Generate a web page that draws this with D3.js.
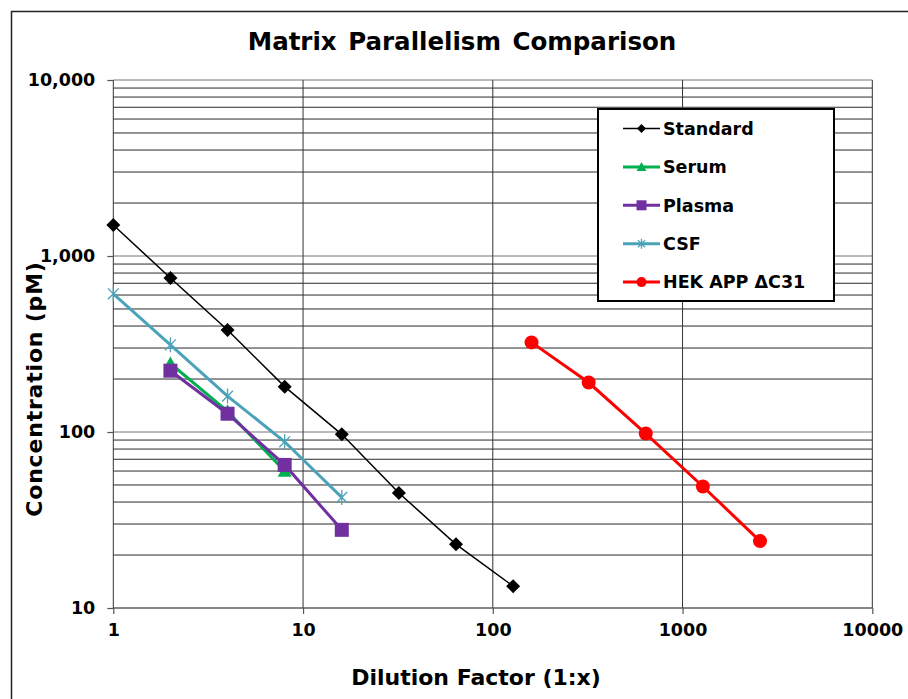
<!DOCTYPE html>
<html>
<head>
<meta charset="utf-8">
<script src="https://cdn.jsdelivr.net/npm/d3@7"></script>
<style>
body { margin: 0; background: #fff; }
text { font-family: "DejaVu Sans", Verdana, sans-serif; font-weight: bold; fill: #000; }
</style>
</head>
<body>
<script>
// dilution factors (1:x) and concentrations (pM)
var standardX = [1, 2, 4, 8, 16, 32, 64, 128]
var standardY = [1500, 750, 380, 181, 97, 45, 23, 13.3]
var serumX = [2, 4, 8]
var serumY = [245, 131, 60]
var plasmaX = [2, 4, 8, 16]
var plasmaY = [223, 127, 65, 27.8]
var csfX = [1, 2, 4, 8, 16]
var csfY = [610, 313, 160, 88, 42.5]
var hekX = [160, 320, 640, 1280, 2560]
var hekY = [323, 191, 98, 49, 24]

var seriesNames = ["Standard", "Serum", "Plasma", "CSF", "HEK APP \u0394C31"]
var xTicks = [1, 10, 100, 1000, 10000]
var yTicks = [10, 100, 1000, 10000]

var w = 908, h = 699
var plotLeft = 113.3, plotTop = 80, plotRight = 872.3, plotBottom = 608

var svg = d3.select("body")
    .append("svg")
    .attr("width", w)
    .attr("height", h)

// outer frame (only top/left edges are visible in the picture)
svg.append("path")
    .attr("d", "M11.5,699V11.5H908")
    .attr("fill", "none")
    .attr("stroke", "#222")
    .attr("stroke-width", 1.5)

var xScale = d3.scaleLog()
    .domain([1, 10000])
    .range([plotLeft, plotRight])

var yScale = d3.scaleLog()
    .domain([10, 10000])
    .range([plotBottom, plotTop])

// horizontal grid: every 1..9 step in each decade
var yGrid = []
for (var k = 1; k < 4; k++) {
    for (var m = 1; m < 10; m++) {
        yGrid.push(m * Math.pow(10, k))
    }
}
yGrid.push(10000)

svg.append("g")
    .selectAll("line")
    .data(yGrid)
    .enter()
    .append("line")
    .attr("x1", plotLeft)
    .attr("x2", plotRight)
    .attr("y1", function(d) { return yScale(d) })
    .attr("y2", function(d) { return yScale(d) })
    .attr("stroke", function(d) { return yTicks.includes(d) ? "#777" : "#2a2a2a" })
    .attr("stroke-width", 1)

svg.append("g")
    .selectAll("line")
    .data(xTicks)
    .enter()
    .append("line")
    .attr("x1", function(d) { return xScale(d) })
    .attr("x2", function(d) { return xScale(d) })
    .attr("y1", plotTop)
    .attr("y2", plotBottom)
    .attr("stroke", "#333")
    .attr("stroke-width", 1)

// axes
var xAxis = d3.axisBottom(xScale)
    .tickValues(xTicks)
    .tickFormat(d3.format("d"))
    .tickSize(6)
    .tickPadding(10)

var yAxis = d3.axisLeft(yScale)
    .tickValues(yTicks)
    .tickFormat(d3.format(","))
    .tickSize(6)
    .tickPadding(12)

var gx = svg.append("g")
    .attr("transform", "translate(0," + plotBottom + ")")
    .call(xAxis)

var gy = svg.append("g")
    .attr("transform", "translate(" + plotLeft + ",0)")
    .call(yAxis)

;[gx, gy].forEach(function(g) {
    g.select(".domain").attr("stroke", "#555").attr("stroke-width", 1.2)
    g.selectAll(".tick line").attr("stroke", "#555").attr("stroke-width", 1.2)
    g.selectAll(".tick text")
        .attr("font-family", null)
        .attr("font-size", null)
        .style("font-size", "17.5px")
})
gy.select(".domain").remove()
gx.select(".domain").attr("d", "M" + plotLeft + ",0H" + plotRight)

// series
var line = d3.line()
    .x(function(d) { return xScale(d[0]) })
    .y(function(d) { return yScale(d[1]) })

var starPath = function(r) {
    var a = r * 0.72
    return "M0," + (-r) + "V" + r +
        "M" + (-a) + "," + (-a) + "L" + a + "," + a +
        "M" + (-a) + "," + a + "L" + a + "," + (-a)
}

var series = [
    { x: standardX, y: standardY, color: "#000", width: 1.5, marker: "diamond", size: 7 },
    { x: serumX, y: serumY, color: "#00b050", width: 3, marker: "triangle", size: 7 },
    { x: plasmaX, y: plasmaY, color: "#7030a0", width: 3, marker: "square", size: 7 },
    { x: csfX, y: csfY, color: "#4aa3b8", width: 3, marker: "star", size: 7.5 },
    { x: hekX, y: hekY, color: "#ff0000", width: 3, marker: "circle", size: 7 }
]

var markerPath = function(type, r) {
    if (type == "diamond") return "M0," + (-r) + "L" + r + ",0L0," + r + "L" + (-r) + ",0Z"
    if (type == "triangle") return "M0," + (-r) + "L" + r + "," + (r * 0.8) + "L" + (-r) + "," + (r * 0.8) + "Z"
    if (type == "square") return "M" + (-r) + "," + (-r) + "H" + r + "V" + r + "H" + (-r) + "Z"
    if (type == "circle") return d3.symbol().type(d3.symbolCircle).size(Math.PI * r * r)()
    return starPath(r)
}

var drawMarker = function(g, s, r) {
    var p = g.append("path").attr("d", markerPath(s.marker, r))
    if (s.marker == "star") {
        p.attr("fill", "none").attr("stroke", s.color).attr("stroke-width", 1.3)
    } else {
        p.attr("fill", s.color)
    }
}

series.forEach(function(s) {
    var pts = s.x.map(function(x, i) { return [x, s.y[i]] })
    svg.append("path")
        .datum(pts)
        .attr("d", line)
        .attr("fill", "none")
        .attr("stroke", s.color)
        .attr("stroke-width", s.width)

    pts.forEach(function(p) {
        var g = svg.append("g")
            .attr("transform", "translate(" + xScale(p[0]) + "," + yScale(p[1]) + ")")
        drawMarker(g, s, s.size)
    })
})

// legend
var legend = svg.append("g")
legend.append("rect")
    .attr("x", 598)
    .attr("y", 109)
    .attr("width", 236)
    .attr("height", 192)
    .attr("fill", "#fff")
    .attr("stroke", "#000")
    .attr("stroke-width", 2)

series.forEach(function(s, i) {
    var ly = 128.5 + i * 38.4
    legend.append("line")
        .attr("x1", 623)
        .attr("x2", 660)
        .attr("y1", ly)
        .attr("y2", ly)
        .attr("stroke", s.color)
        .attr("stroke-width", s.width)
    var g = legend.append("g").attr("transform", "translate(641.5," + ly + ")")
    drawMarker(g, s, s.marker == "diamond" ? 4.5 : 5)
    legend.append("text")
        .attr("x", 663)
        .attr("y", ly)
        .attr("dy", "0.36em")
        .style("font-size", "17.5px")
        .text(seriesNames[i])
})

// titles
svg.append("text")
    .attr("x", 462)
    .attr("y", 50)
    .attr("text-anchor", "middle")
    .style("font-size", "24.5px")
    .style("word-spacing", "3px")
    .text("Matrix Parallelism Comparison")

svg.append("text")
    .attr("x", 476)
    .attr("y", 685)
    .attr("text-anchor", "middle")
    .style("font-size", "22px")
    .text("Dilution Factor (1:x)")

svg.append("text")
    .attr("transform", "translate(42,389) rotate(-90)")
    .attr("text-anchor", "middle")
    .style("font-size", "22px")
    .style("letter-spacing", "0.8px")
    .text("Concentration (pM)")
</script>
</body>
</html>
